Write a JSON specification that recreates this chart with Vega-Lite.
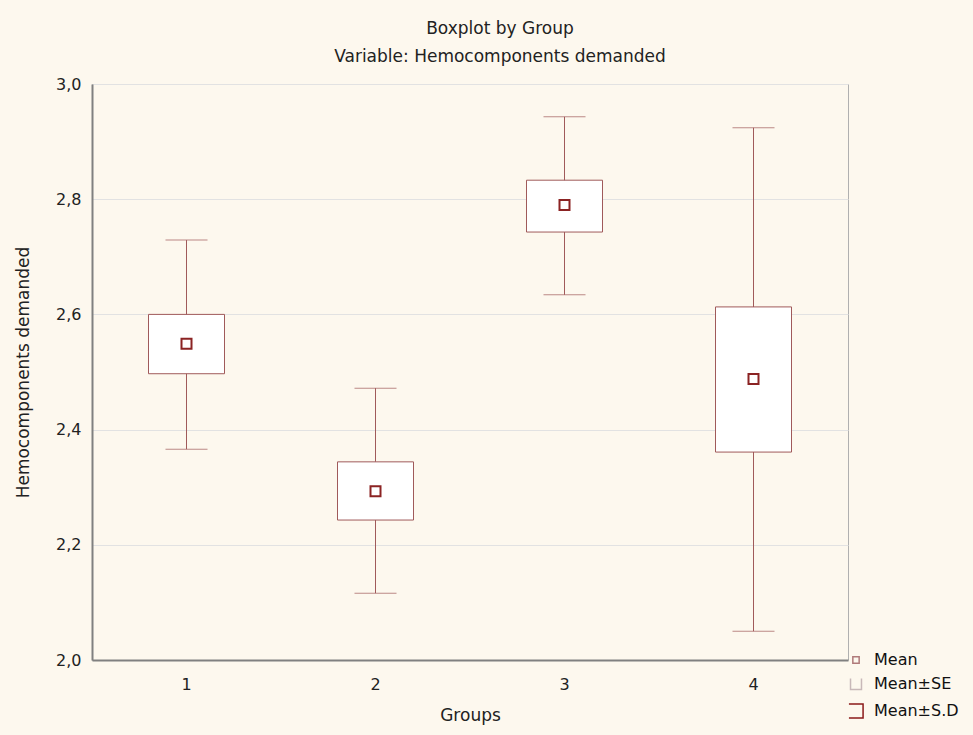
{
  "$schema": "https://vega.github.io/schema/vega-lite/v6.json",
  "autosize": {"type": "none"},
  "padding": {"left": 92, "top": 84, "right": 125, "bottom": 75},
  "width": 756,
  "height": 576,
  "background": "#fdf8ee",
  "title": {
    "text": ["Boxplot by Group", "Variable: Hemocomponents demanded"],
    "font": "DejaVu Sans",
    "fontSize": 17,
    "fontWeight": "normal",
    "color": "#222222",
    "lineHeight": 28,
    "offset": 10,
    "dx": 30,
    "anchor": "middle"
  },
  "config": {
    "view": {"fill": "white", "stroke": "#b0b0b0", "strokeWidth": 1},
    "axis": {"labelFont": "DejaVu Sans", "titleFont": "DejaVu Sans", "labelColor": "#222222", "titleColor": "#222222", "labelFontSize": 16, "titleFontSize": 17, "titleFontWeight": "normal"}
  },
  "data": {
    "values": [
      {"group": "1", "mean": 2.549, "se_lo": 2.497, "se_hi": 2.6, "sd_lo": 2.366, "sd_hi": 2.729},
      {"group": "2", "mean": 2.293, "se_lo": 2.243, "se_hi": 2.344, "sd_lo": 2.116, "sd_hi": 2.472},
      {"group": "3", "mean": 2.79, "se_lo": 2.743, "se_hi": 2.833, "sd_lo": 2.634, "sd_hi": 2.943},
      {"group": "4", "mean": 2.488, "se_lo": 2.361, "se_hi": 2.613, "sd_lo": 2.05, "sd_hi": 2.924}
    ]
  },
  "layer": [
    {
      "mark": {"type": "rule", "color": "#a05a5a", "strokeWidth": 1},
      "encoding": {
        "x": {"field": "group", "type": "ordinal", "scale": {"paddingInner": 0, "paddingOuter": 0},
          "axis": {"title": "Groups", "labelAngle": 0, "ticks": false, "labelPadding": 16, "titlePadding": 15, "domainColor": "#808080", "domainWidth": 2, "grid": false}},
        "y": {"field": "sd_lo", "type": "quantitative", "scale": {"domain": [2, 3], "nice": false},
          "axis": {"title": "Hemocomponents demanded", "values": [2, 2.2, 2.4, 2.6, 2.8, 3.0], "labelExpr": "replace(format(datum.value, '.1f'), '.', ',')", "ticks": false, "labelPadding": 11, "titlePadding": 23, "domainColor": "#808080", "domainWidth": 2, "grid": true, "gridColor": "#e2e2e2", "gridWidth": 1}},
        "y2": {"field": "sd_hi"}
      }
    },
    {
      "mark": {"type": "tick", "color": "#a05a5a", "thickness": 1, "size": 42, "orient": "horizontal"},
      "encoding": {
        "x": {"field": "group", "type": "ordinal"},
        "y": {"field": "sd_lo", "type": "quantitative"}
      }
    },
    {
      "mark": {"type": "tick", "color": "#a05a5a", "thickness": 1, "size": 42, "orient": "horizontal"},
      "encoding": {
        "x": {"field": "group", "type": "ordinal"},
        "y": {"field": "sd_hi", "type": "quantitative"}
      }
    },
    {
      "mark": {"type": "bar", "fill": "white", "stroke": "#a05a5a", "strokeWidth": 1, "width": 76},
      "encoding": {
        "x": {"field": "group", "type": "ordinal"},
        "y": {"field": "se_lo", "type": "quantitative"},
        "y2": {"field": "se_hi"}
      }
    },
    {
      "mark": {"type": "point", "shape": "square", "size": 100, "filled": false, "fill": "white", "stroke": "#8b2323", "strokeWidth": 2, "opacity": 1},
      "encoding": {
        "x": {"field": "group", "type": "ordinal"},
        "y": {"field": "mean", "type": "quantitative"}
      }
    },
    {
      "data": {"values": [{"k": "Mean"}, {"k": "Mean±SE"}, {"k": "Mean±S.D"}]},
      "mark": {"type": "point", "filled": false, "opacity": 0},
      "encoding": {
        "shape": {"field": "k", "type": "nominal",
          "scale": {"domain": ["Mean", "Mean±SE", "Mean±S.D"], "range": ["square", "M-1,-1L-1,1L1,1L1,-1", "M-1,-1L1,-1L1,1L-1,1"]},
          "legend": {"title": null, "orient": "none", "legendX": 756, "legendY": 568, "labelFont": "DejaVu Sans", "labelFontSize": 16, "labelColor": "#111111", "rowPadding": 7, "symbolStrokeWidth": 1.5, "labelOffset": 10}},
        "color": {"field": "k", "type": "nominal",
          "scale": {"domain": ["Mean", "Mean±SE", "Mean±S.D"], "range": ["#b07a7a", "#c8b8b8", "#8b1a1a"]},
          "legend": {"title": null, "orient": "none", "legendX": 756, "legendY": 568, "labelFont": "DejaVu Sans", "labelFontSize": 16, "labelColor": "#111111", "rowPadding": 7, "symbolStrokeWidth": 1.5, "labelOffset": 10}},
        "size": {"field": "k", "type": "nominal",
          "scale": {"domain": ["Mean", "Mean±SE", "Mean±S.D"], "range": [40, 200, 200]},
          "legend": {"title": null, "orient": "none", "legendX": 756, "legendY": 568, "labelFont": "DejaVu Sans", "labelFontSize": 16, "labelColor": "#111111", "rowPadding": 7, "symbolStrokeWidth": 1.5, "labelOffset": 10}}
      }
    }
  ]
}
